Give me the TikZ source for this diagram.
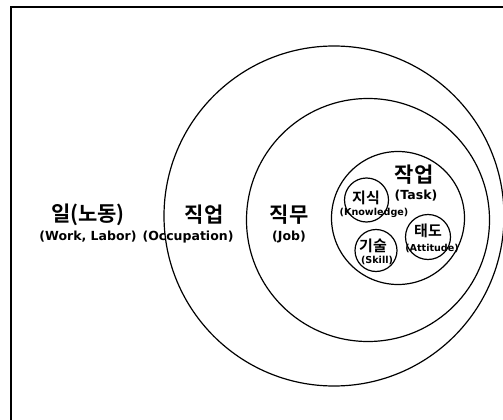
\documentclass[tikz,border=0pt]{standalone}
\usepackage{fontspec}
\newfontfamily\kr{Noto Sans CJK KR}[BoldFont={* Bold}]
\newfontfamily\lat{DejaVu Sans}
\begin{document}
\begin{tikzpicture}[x=1pt,y=-1pt,
  ring/.style={draw,line width=1.2pt,circle},
  big/.style={font=\kr\bfseries\fontsize{21}{22}\selectfont,inner sep=0pt},
  sub/.style={font=\lat\bfseries\fontsize{12.5}{14}\selectfont,inner sep=0pt},
  mid/.style={font=\kr\bfseries\fontsize{15}{16}\selectfont,inner sep=0pt},
  tiny/.style={font=\lat\bfseries\fontsize{9.6}{11}\selectfont,inner sep=0pt}]
\useasboundingbox (0,0) rectangle (503,420);
\fill[white] (0,0) rectangle (503,420);
\draw[line width=1.5pt] (11,430) -- (11,7) -- (510,7);
\node[ring,minimum size=340pt] (work) at (334,216) {};
\node[ring,minimum size=243pt] (job) at (368,220) {};
\node[ring,minimum size=133pt] (task) at (398,218) {};
\node[ring,minimum size=44pt] (know) at (366.5,200) {};
\node[ring,minimum size=42pt] (skill) at (376,250.5) {};
\node[ring,minimum size=45pt] (att) at (428,237) {};
\node[big] (t1) at (88,215) {일(노동)};
\node[sub] (s1) at (88,237) {(Work, Labor)};
\node[big] (t2) at (204,215) {직업};
\node[sub] (s2) at (188,237) {(Occupation)};
\node[big] (t3) at (289,215) {직무};
\node[sub] (s3) at (289,237) {(Job)};
\node[big] (t4) at (414,175) {작업};
\node[sub] (s4) at (416,196) {(Task)};
\node[mid] (t5) at (366,198) {지식};
\node[tiny] (s5) at (374,213) {(Knowledge)};
\node[mid] (t6) at (373,246) {기술};
\node[tiny] (s6) at (377,260) {(Skill)};
\node[mid] (t7) at (428,231) {태도};
\node[tiny] (s7) at (432,248) {(Attitude)};
\end{tikzpicture}
\end{document}
